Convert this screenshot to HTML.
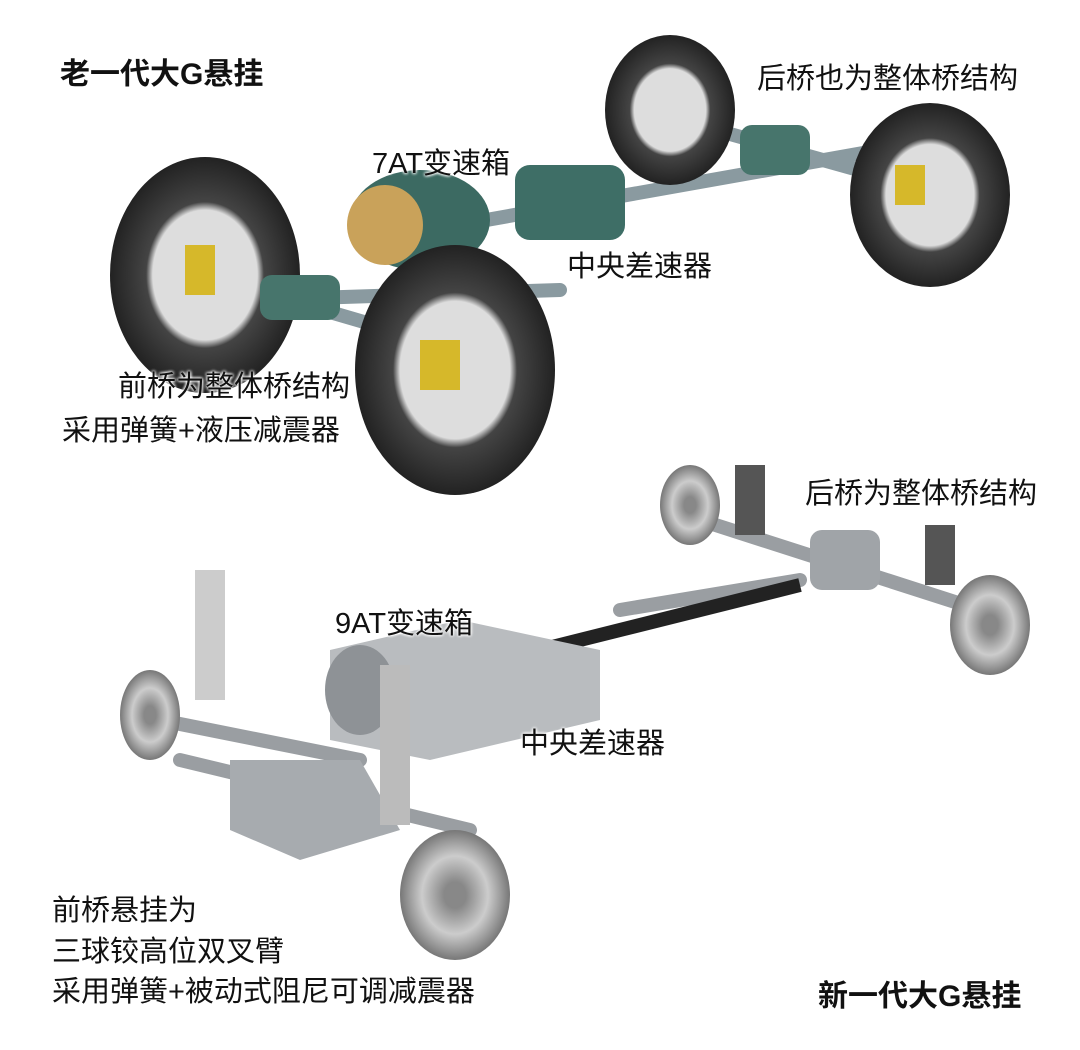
<!DOCTYPE html>
<html><head><meta charset="utf-8"><style>
body{margin:0;background:#fff;}
.w{position:relative;width:1080px;height:1050px;overflow:hidden;font-family:"Liberation Sans","Noto Sans CJK SC",sans-serif;}
.t{position:absolute;font-size:29px;color:#111;white-space:nowrap;line-height:1;text-shadow:0 0 3px #fff,0 0 3px #fff,0 0 3px #fff;}
.b{font-weight:bold;font-size:30px;}
svg{position:absolute;left:0;top:0;}
</style></head><body><div class="w">
<svg width="1080" height="1050">
<defs>
<radialGradient id="tire" cx="50%" cy="50%" r="50%"><stop offset="55%" stop-color="#ddd"/><stop offset="62%" stop-color="#444"/><stop offset="100%" stop-color="#222"/></radialGradient>
<radialGradient id="disc" cx="50%" cy="50%" r="50%"><stop offset="20%" stop-color="#888"/><stop offset="60%" stop-color="#ccc"/><stop offset="100%" stop-color="#777"/></radialGradient>
</defs>
<g stroke="#8a9aa0" stroke-width="14" stroke-linecap="round">
<line x1="220" y1="280" x2="460" y2="350"/>
<line x1="430" y1="230" x2="880" y2="150"/>
<line x1="680" y1="120" x2="930" y2="190"/>
<line x1="250" y1="300" x2="560" y2="290"/>
</g>
<ellipse cx="205" cy="275" rx="95" ry="118" fill="url(#tire)"/>
<ellipse cx="670" cy="110" rx="65" ry="75" fill="url(#tire)"/>
<ellipse cx="930" cy="195" rx="80" ry="92" fill="url(#tire)"/>
<ellipse cx="420" cy="220" rx="70" ry="50" fill="#3c6a62"/>
<ellipse cx="385" cy="225" rx="38" ry="40" fill="#c9a25a"/>
<rect x="515" y="165" width="110" height="75" rx="15" fill="#3e6e66"/>
<rect x="740" y="125" width="70" height="50" rx="12" fill="#47756c"/>
<rect x="260" y="275" width="80" height="45" rx="12" fill="#47756c"/>
<ellipse cx="455" cy="370" rx="100" ry="125" fill="url(#tire)"/>
<rect x="420" y="340" width="40" height="50" fill="#d6b82a"/>
<rect x="185" y="245" width="30" height="50" fill="#d6b82a"/>
<rect x="895" y="165" width="30" height="40" fill="#d6b82a"/>
<g stroke="#9a9ea2" stroke-width="14" stroke-linecap="round">
<line x1="620" y1="610" x2="800" y2="580"/>
<line x1="180" y1="760" x2="470" y2="830"/>
<line x1="700" y1="520" x2="980" y2="610"/>
<line x1="160" y1="720" x2="360" y2="760"/>
</g>
<line x1="540" y1="650" x2="800" y2="585" stroke="#222" stroke-width="14"/>
<path d="M330 650 L460 620 L600 650 L600 720 L430 760 L330 740 Z" fill="#b9bcbf"/>
<ellipse cx="360" cy="690" rx="35" ry="45" fill="#8e9296"/>
<path d="M230 760 L360 760 L400 830 L300 860 L230 830 Z" fill="#a7abaf"/>
<rect x="810" y="530" width="70" height="60" rx="12" fill="#a0a4a8"/>
<ellipse cx="690" cy="505" rx="30" ry="40" fill="url(#disc)"/>
<ellipse cx="990" cy="625" rx="40" ry="50" fill="url(#disc)"/>
<ellipse cx="150" cy="715" rx="30" ry="45" fill="url(#disc)"/>
<ellipse cx="455" cy="895" rx="55" ry="65" fill="url(#disc)"/>
<rect x="195" y="570" width="30" height="130" fill="#ccc"/>
<rect x="380" y="665" width="30" height="160" fill="#bbb"/>
<rect x="735" y="465" width="30" height="70" fill="#555"/>
<rect x="925" y="525" width="30" height="60" fill="#555"/>
</svg>
<div class="t b" style="left:60px;top:60px">老一代大G悬挂</div>
<div class="t" style="left:757px;top:65px">后桥也为整体桥结构</div>
<div class="t" style="left:372px;top:150px">7AT变速箱</div>
<div class="t" style="left:567px;top:253px">中央差速器</div>
<div class="t" style="left:118px;top:373px">前桥为整体桥结构</div>
<div class="t" style="left:62px;top:417px">采用弹簧+液压减震器</div>
<div class="t" style="left:805px;top:480px">后桥为整体桥结构</div>
<div class="t" style="left:335px;top:610px">9AT变速箱</div>
<div class="t" style="left:520px;top:730px">中央差速器</div>
<div class="t" style="left:52px;top:897px">前桥悬挂为</div>
<div class="t" style="left:52px;top:938px">三球铰高位双叉臂</div>
<div class="t" style="left:52px;top:978px">采用弹簧+被动式阻尼可调减震器</div>
<div class="t b" style="left:818px;top:982px">新一代大G悬挂</div>
</div></body></html>
